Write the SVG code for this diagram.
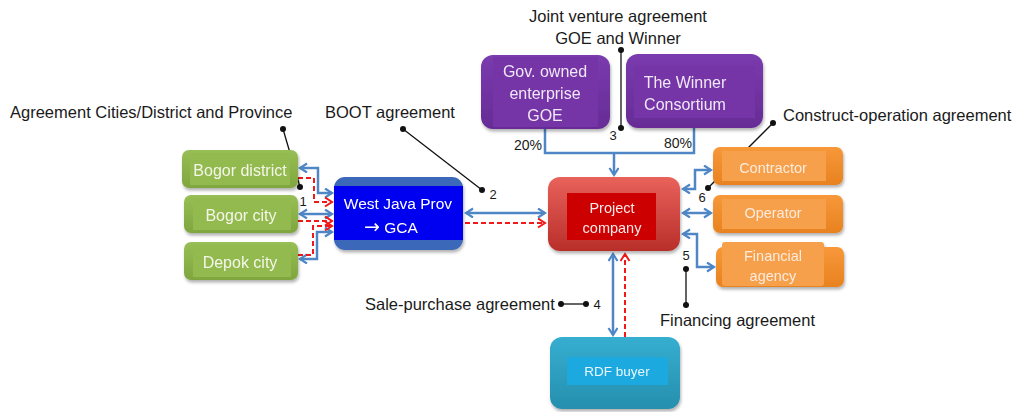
<svg xmlns="http://www.w3.org/2000/svg" width="1018" height="412" viewBox="0 0 1018 412">
  <style>
    .lbl { font-family: "Liberation Sans", Arial, sans-serif; font-size: 16.5px; fill: #1a1a1a; }
    .num { font-family: "Liberation Sans", Arial, sans-serif; font-size: 13px; fill: #1a1a1a; text-anchor: middle; }
    .pct { font-family: "Liberation Sans", Arial, sans-serif; font-size: 14px; fill: #1a1a1a; text-anchor: middle; }
    .nt { font-family: "Liberation Sans", Arial, sans-serif; text-anchor: middle; }
    .arw { font-family: "DejaVu Sans", sans-serif; font-size: 19px; }
    .blue { fill: none; stroke: #4F86C6; stroke-width: 2.5; }
    .red { fill: none; stroke: #F01818; stroke-width: 2; stroke-dasharray: 5 3; }
    .lead { fill: none; stroke: #111; stroke-width: 1.3; }
    .dot { fill: #111; }
  </style>
  <defs>
    <marker id="ab" markerUnits="userSpaceOnUse" markerWidth="14" markerHeight="14" refX="8" refY="5" orient="auto-start-reverse">
      <path d="M1,0.5 L8,5 L1,9.5" fill="none" stroke="#4F86C6" stroke-width="2.2"/>
    </marker>
    <marker id="ar" markerUnits="userSpaceOnUse" markerWidth="14" markerHeight="14" refX="8" refY="5" orient="auto-start-reverse">
      <path d="M1,0.5 L8,5 L1,9.5" fill="none" stroke="#F01818" stroke-width="2"/>
    </marker>
    <filter id="sh" x="-10%" y="-10%" width="125%" height="135%">
      <feDropShadow dx="1" dy="2.5" stdDeviation="1.5" flood-color="#000" flood-opacity="0.3"/>
    </filter>
    <linearGradient id="gGreen" x1="0" y1="0" x2="0" y2="1">
      <stop offset="0" stop-color="#98BF55"/>
      <stop offset="1" stop-color="#7FA63E"/>
    </linearGradient>
    <linearGradient id="gRed" x1="0" y1="0" x2="0" y2="1">
      <stop offset="0" stop-color="#E9625B"/>
      <stop offset="1" stop-color="#B92E2A"/>
    </linearGradient>
    <linearGradient id="gPurple" x1="0" y1="0" x2="0" y2="1">
      <stop offset="0" stop-color="#7A3BAE"/>
      <stop offset="1" stop-color="#672C96"/>
    </linearGradient>
    <linearGradient id="gOrange" x1="0" y1="0" x2="0" y2="1">
      <stop offset="0" stop-color="#F7983A"/>
      <stop offset="1" stop-color="#E8821F"/>
    </linearGradient>
    <linearGradient id="gTeal" x1="0" y1="0" x2="0" y2="1">
      <stop offset="0" stop-color="#36AED0"/>
      <stop offset="1" stop-color="#268FAE"/>
    </linearGradient>
  </defs>

  <rect width="1018" height="412" fill="#ffffff"/>

  <!-- connectors -->
  <g id="connectors">
    <!-- cities / district to province -->
    <path class="blue" d="M300,168 H318 V193 H332" marker-start="url(#ab)" marker-end="url(#ab)"/>
    <path class="red" d="M298,178 H314 V202 H332" marker-end="url(#ar)"/>
    <path class="blue" d="M300,214 H332" marker-start="url(#ab)" marker-end="url(#ab)"/>
    <path class="red" d="M298,221 H332" marker-end="url(#ar)"/>
    <path class="blue" d="M300,259 H317 V232 H332" marker-start="url(#ab)" marker-end="url(#ab)"/>
    <path class="red" d="M298,255 H313 V226 H332" marker-end="url(#ar)"/>
    <!-- province to project company -->
    <path class="blue" d="M466,213 H545" marker-start="url(#ab)" marker-end="url(#ab)"/>
    <path class="red" d="M465,223 H545" marker-end="url(#ar)"/>
    <!-- shareholders -->
    <path class="blue" d="M545,129 V153 H694 V128"/>
    <path class="blue" d="M614,153 V175" marker-end="url(#ab)"/>
    <!-- contractor, operator, financial agency -->
    <path class="blue" d="M683,189 H695 V170 H711" marker-start="url(#ab)" marker-end="url(#ab)"/>
    <path class="blue" d="M683,213 H711" marker-start="url(#ab)" marker-end="url(#ab)"/>
    <path class="blue" d="M683,234 H697 V267 H714" marker-start="url(#ab)" marker-end="url(#ab)"/>
    <!-- RDF buyer -->
    <path class="blue" d="M613,254 V335" marker-start="url(#ab)" marker-end="url(#ab)"/>
    <path class="red" d="M625,337 V254" marker-end="url(#ar)"/>
  </g>

  <!-- agreement labels with leaders -->
  <g id="labels">
    <text class="lbl" x="10" y="118">Agreement Cities/District and Province</text>
    <line class="lead" x1="283" y1="129" x2="300" y2="187"/>
    <circle class="dot" cx="283" cy="129" r="3"/>
    <circle class="dot" cx="300" cy="187" r="3"/>
    <text class="num" x="303" y="206">1</text>

    <text class="lbl" x="325" y="118">BOOT agreement</text>
    <line class="lead" x1="403" y1="129" x2="482" y2="190"/>
    <circle class="dot" cx="403" cy="129" r="3"/>
    <circle class="dot" cx="482" cy="190" r="3"/>
    <text class="num" x="493" y="199">2</text>

    <text class="lbl" x="618" y="22" text-anchor="middle">Joint venture agreement</text>
    <text class="lbl" x="618" y="44" text-anchor="middle">GOE and Winner</text>
    <line class="lead" x1="621" y1="50" x2="621" y2="128"/>
    <circle class="dot" cx="621" cy="50" r="3"/>
    <circle class="dot" cx="621" cy="128" r="3"/>
    <text class="num" x="613" y="140">3</text>

    <text class="lbl" x="365" y="310">Sale-purchase agreement</text>
    <line class="lead" x1="561" y1="304" x2="586" y2="304"/>
    <circle class="dot" cx="561" cy="304" r="3"/>
    <circle class="dot" cx="586" cy="304" r="3"/>
    <text class="num" x="597" y="309">4</text>

    <text class="lbl" x="660" y="326">Financing agreement</text>
    <line class="lead" x1="686" y1="269" x2="686" y2="305"/>
    <circle class="dot" cx="686" cy="269" r="3"/>
    <circle class="dot" cx="686" cy="305" r="3"/>
    <text class="num" x="686" y="260">5</text>

    <text class="lbl" x="783" y="121">Construct-operation agreement</text>
    <line class="lead" x1="708" y1="188" x2="773" y2="123"/>
    <circle class="dot" cx="708" cy="188" r="3"/>
    <circle class="dot" cx="773" cy="123" r="3"/>
    <text class="num" x="702" y="202">6</text>

    <text class="pct" x="528" y="150">20%</text>
    <text class="pct" x="678" y="148">80%</text>
  </g>

  <!-- local governments -->
  <g id="bogor-district" filter="url(#sh)">
    <rect x="182" y="150" width="116" height="38" rx="7" fill="url(#gGreen)"/>
    <rect x="190" y="153" width="100" height="32" fill="#93BA50"/>
    <text class="nt" x="240" y="176" font-size="16" fill="#F4F6E8">Bogor district</text>
  </g>
  <g id="bogor-city" filter="url(#sh)">
    <rect x="184" y="195" width="114" height="38" rx="7" fill="url(#gGreen)"/>
    <rect x="193" y="198" width="98" height="32" fill="#93BA50"/>
    <text class="nt" x="241" y="221" font-size="16" fill="#F4F6E8">Bogor city</text>
  </g>
  <g id="depok-city" filter="url(#sh)">
    <rect x="184" y="242" width="114" height="38" rx="7" fill="url(#gGreen)"/>
    <rect x="193" y="245" width="98" height="32" fill="#93BA50"/>
    <text class="nt" x="240" y="268" font-size="16" fill="#F4F6E8">Depok city</text>
  </g>

  <!-- province -->
  <g id="west-java-gca" filter="url(#sh)">
    <rect x="334" y="177" width="129" height="73" rx="11" fill="#3A68B8"/>
    <rect x="334" y="186" width="129" height="54" fill="#0000F0"/>
    <text class="nt" x="398" y="209" font-size="15.5" fill="#ffffff">West Java Prov</text>
    <text class="nt" x="391" y="233" font-size="15.5" fill="#ffffff"><tspan class="arw">→</tspan> GCA</text>
  </g>

  <!-- shareholders -->
  <g id="goe" filter="url(#sh)">
    <rect x="481" y="55" width="129" height="74" rx="12" fill="url(#gPurple)"/>
    <rect x="493" y="57" width="105" height="70" fill="#7434A6"/>
    <text class="nt" x="545" y="77" font-size="16" fill="#F0E8F6">Gov. owned</text>
    <text class="nt" x="545" y="99" font-size="16" fill="#F0E8F6">enterprise</text>
    <text class="nt" x="545" y="121" font-size="16" fill="#F0E8F6">GOE</text>
  </g>
  <g id="winner" filter="url(#sh)">
    <rect x="626" y="54" width="137" height="74" rx="12" fill="url(#gPurple)"/>
    <rect x="634" y="66" width="121" height="52" fill="#7434A6"/>
    <text class="nt" x="685" y="88" font-size="16" fill="#F0E8F6">The Winner</text>
    <text class="nt" x="685" y="110" font-size="16" fill="#F0E8F6">Consortium</text>
  </g>

  <!-- project company -->
  <g id="project-company" filter="url(#sh)">
    <rect x="548" y="177" width="132" height="74" rx="12" fill="url(#gRed)"/>
    <rect x="567" y="193" width="89" height="47" fill="#CC0000"/>
    <text class="nt" x="612" y="213" font-size="14.5" fill="#FBE8E8">Project</text>
    <text class="nt" x="612" y="233" font-size="14.5" fill="#FBE8E8">company</text>
  </g>

  <!-- contractors and finance -->
  <g id="contractor" filter="url(#sh)">
    <rect x="713" y="147" width="130" height="38" rx="7" fill="url(#gOrange)"/>
    <rect x="722" y="151" width="104" height="30" fill="#F7A04C"/>
    <text class="nt" x="773" y="173" font-size="14.5" fill="#FDEBDC">Contractor</text>
  </g>
  <g id="operator" filter="url(#sh)">
    <rect x="713" y="195" width="130" height="38" rx="7" fill="url(#gOrange)"/>
    <rect x="722" y="199" width="104" height="30" fill="#F7A04C"/>
    <text class="nt" x="773" y="218" font-size="14.5" fill="#FDEBDC">Operator</text>
  </g>
  <g id="financial-agency" filter="url(#sh)">
    <rect x="716" y="247" width="128" height="40" rx="7" fill="url(#gOrange)"/>
    <rect x="722" y="242" width="102" height="44" rx="3" fill="#F7A04C"/>
    <text class="nt" x="773" y="261" font-size="14.5" fill="#FDEBDC">Financial</text>
    <text class="nt" x="773" y="281" font-size="14.5" fill="#FDEBDC">agency</text>
  </g>

  <!-- offtaker -->
  <g id="rdf-buyer" filter="url(#sh)">
    <rect x="550" y="337" width="130" height="72" rx="12" fill="url(#gTeal)"/>
    <rect x="567" y="357" width="101" height="28" fill="#1DA9E0"/>
    <text class="nt" x="617" y="376" font-size="13.5" fill="#E8F6FC">RDF buyer</text>
  </g>
</svg>
